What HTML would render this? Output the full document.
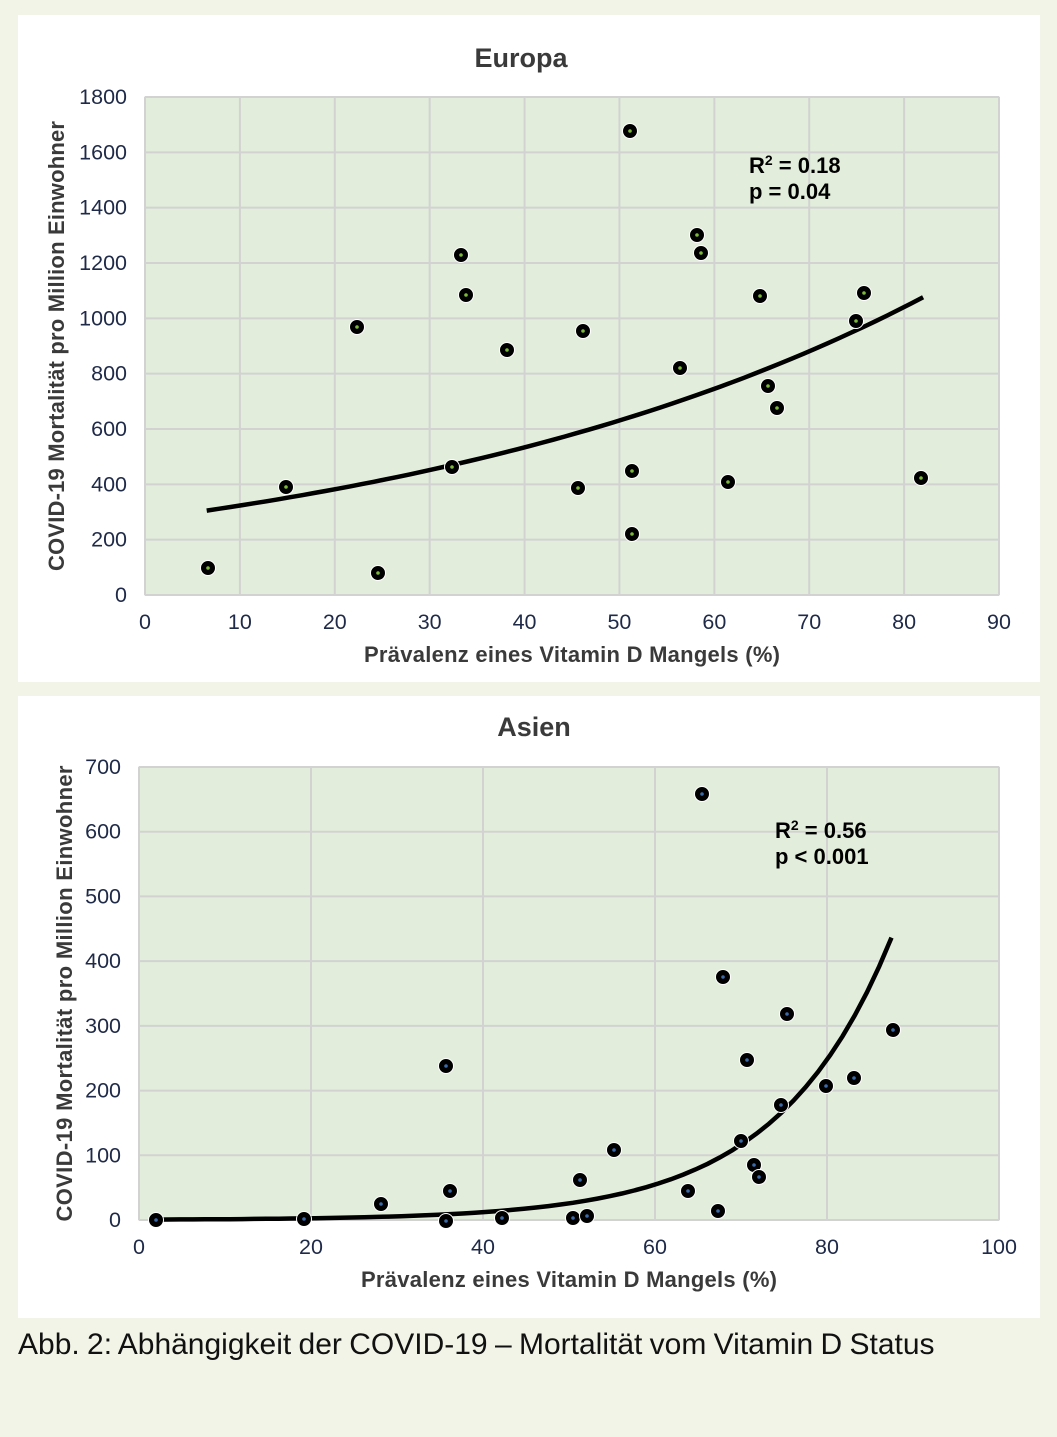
<!DOCTYPE html>
<html><head><meta charset="utf-8"><style>
body{margin:0;background:#f3f4e8;width:1057px;height:1437px;overflow:hidden;font-family:"Liberation Sans",sans-serif}
.panel{position:absolute;left:18px;width:1022px;background:#fff}
svg{position:absolute;left:0;top:0}
.cap{position:absolute;left:18px;top:1328px;font-size:30px;color:#111;letter-spacing:0px;word-spacing:-1px}
</style></head><body>
<div class="panel" style="top:15px;height:667px"></div>
<div class="panel" style="top:696px;height:622px"></div>
<svg id="s" width="1057" height="1437" xmlns="http://www.w3.org/2000/svg" font-family="Liberation Sans, sans-serif"></svg>
<div class="cap">Abb. 2: Abhängigkeit der COVID-19 – Mortalität vom Vitamin D Status</div>
<script>
var s=document.getElementById('s'),h='';
function chart(o){
 var X=function(v){return o.x0+(v/o.xmax)*(o.x1-o.x0)},Y=function(v){return o.y0-(v/o.ymax)*(o.y0-o.y1)};
 h+='<rect x="'+o.x0+'" y="'+o.y1+'" width="'+(o.x1-o.x0)+'" height="'+(o.y0-o.y1)+'" fill="#e2eedb" stroke="#c8c8c8"/>';
 for(var v=0;v<=o.xmax;v+=o.xs){var x=X(v);h+='<line x1="'+x+'" x2="'+x+'" y1="'+o.y1+'" y2="'+o.y0+'" stroke="#d2d2d2" stroke-width="2"/>';
  h+='<text x="'+x+'" y="'+(o.y0+34)+'" font-size="21.5" fill="#1f2a48" text-anchor="middle">'+v+'</text>';}
 for(var v=0;v<=o.ymax;v+=o.ys){var y=Y(v);h+='<line x1="'+o.x0+'" x2="'+o.x1+'" y1="'+y+'" y2="'+y+'" stroke="#d2d2d2" stroke-width="2"/>';
  h+='<text x="'+(o.x0-18)+'" y="'+(y+7)+'" font-size="21.5" fill="#1f2a48" text-anchor="end">'+v+'</text>';}
 var d='';for(var i=0;i<=60;i++){var xv=o.ca+(o.cb-o.ca)*i/60;d+=(i?'L':'M')+X(xv).toFixed(1)+','+Y(o.f(xv)).toFixed(1);}
 h+='<path d="'+d+'" fill="none" stroke="#000" stroke-width="4.5"/>';
 o.pts.forEach(function(p){h+='<circle cx="'+p[0]+'" cy="'+p[1]+'" r="7.5" fill="#000" stroke="#fff" stroke-width="1"/><circle cx="'+p[0]+'" cy="'+p[1]+'" r="1.8" fill="'+o.dot+'"/>';});
 h+='<text x="'+o.tx+'" y="'+o.ty+'" font-size="27" font-weight="bold" fill="#3a3a3a" text-anchor="middle">'+o.title+'</text>';
 h+='<text x="'+((o.x0+o.x1)/2+'" y="'+(o.y0+67))+'" font-size="22" font-weight="bold" fill="#3a3a3a" text-anchor="middle" textLength="416">Prävalenz eines Vitamin D Mangels (%)</text>';
 h+='<text transform="translate('+o.lx+','+((o.y0+o.y1)/2)+') rotate(-90)" font-size="22" font-weight="bold" fill="#3a3a3a" text-anchor="middle" textLength="'+o.ll+'">COVID-19 Mortalität  pro Million Einwohner</text>';
 h+='<text x="'+o.rx+'" y="'+o.ry+'" font-size="22" font-weight="bold" fill="#000">R<tspan font-size="14" dy="-8">2</tspan><tspan dy="8"> = '+o.r2+'</tspan></text>';
 h+='<text x="'+o.rx+'" y="'+(o.ry+26)+'" font-size="22" font-weight="bold" fill="#000">'+o.p+'</text>';
}
chart({x0:145,x1:999,y0:595,y1:97,xmax:90,ymax:1800,xs:10,ys:200,ca:6.5,cb:82,f:function(x){return 305*Math.exp(0.0167*(x-6.5))},
 pts:[[208,568],[286,487],[357,327],[378,573],[452,467],[461,255],[466,295],[507,350],[578,488],[583,331],[630,131],[632,471],[632,534],[680,368],[697,235],[701,253],[728,482],[760,296],[768,386],[777,408],[856,321],[864,293],[921,478]],
 dot:"#7cb83a",title:"Europa",tx:521,ty:67,lx:64,ll:450,rx:749,ry:173,r2:"0.18",p:"p = 0.04"});
chart({x0:139,x1:999,y0:1220,y1:767,xmax:100,ymax:700,xs:20,ys:100,ca:2,cb:87.5,f:function(x){return 0.59*Math.exp(0.0755*x)},
 pts:[[156,1220],[304,1219],[381,1204],[446,1066],[446,1221],[450,1191],[502,1218],[573,1218],[580,1180],[587,1216],[614,1150],[688,1191],[702,794],[718,1211],[723,977],[741,1141],[747,1060],[754,1165],[759,1177],[781,1105],[787,1014],[826,1086],[854,1078],[893,1030]],
 dot:"#3a6aa8",title:"Asien",tx:534,ty:736,lx:72,ll:456,rx:775,ry:838,r2:"0.56",p:"p &lt; 0.001"});
s.innerHTML=h;
</script>
</body></html>
